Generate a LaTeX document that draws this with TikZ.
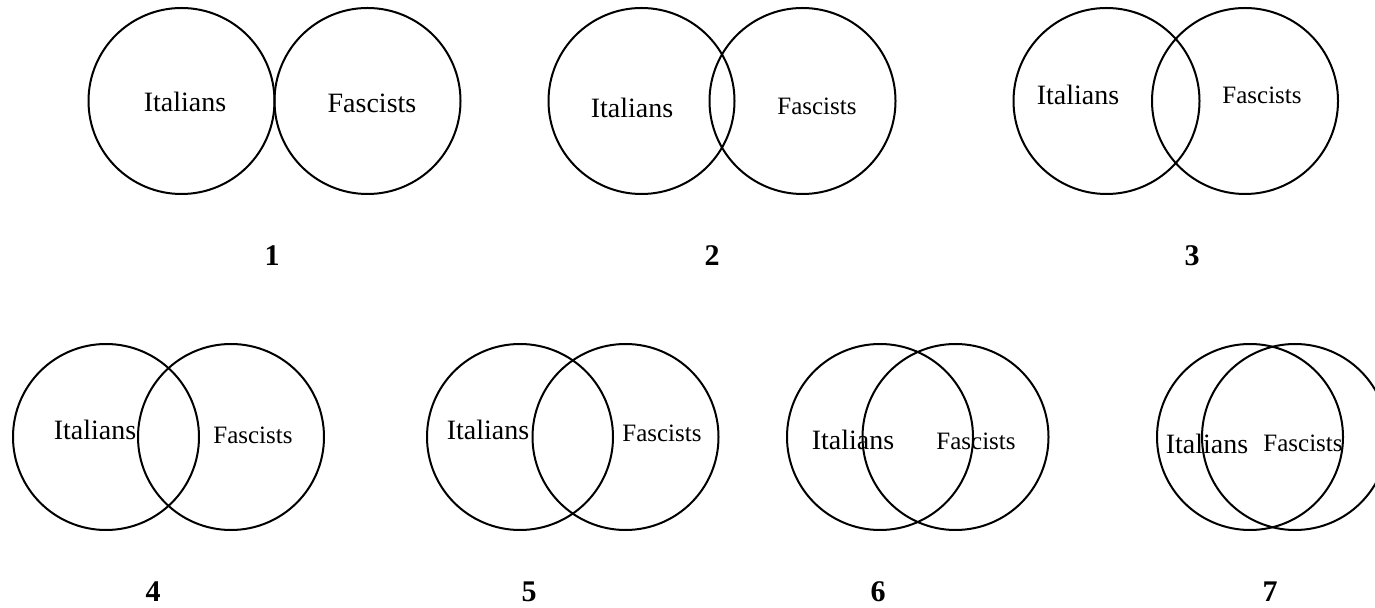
\documentclass[tikz,border=0pt]{standalone}
\usepackage{fontspec}
\setmainfont{Liberation Serif}
\usetikzlibrary{positioning}

\begin{document}
\begin{tikzpicture}[%
        x=0.5pt, y=-0.5pt,
        set/.style={circle, draw, line width=1pt, inner sep=0pt, minimum size=93pt},
        big/.style={font=\fontsize{14}{16}\selectfont},
        small/.style={font=\fontsize{12.5}{14}\selectfont},
        num/.style={font=\fontsize{15}{18}\selectfont\bfseries}
        ]

        \useasboundingbox (0,0) rectangle (1375,608);

        \node[set] (i1) at (181.5,101) {};
        \node[set] (f1) at (367.5,101) {};
        \node[big] (ti1) at (185,102) {Italians};
        \node[big] (tf1) at (372,103) {Fascists};
        \node[num] (n1) at (272,256) {1};

        \node[set] (i2) at (641.5,101) {};
        \node[set] (f2) at (802.5,101) {};
        \node[big] (ti2) at (632,108) {Italians};
        \node[small] (tf2) at (817,106) {Fascists};
        \node[num] (n2) at (712,256) {2};

        \node[set] (i3) at (1106.5,101) {};
        \node[set] (f3) at (1245,101) {};
        \node[big] (ti3) at (1078,95) {Italians};
        \node[small] (tf3) at (1262,95) {Fascists};
        \node[num] (n3) at (1192,256) {3};

        \node[set] (i4) at (106,437) {};
        \node[set] (f4) at (231,437) {};
        \node[big] (ti4) at (95,430) {Italians};
        \node[small] (tf4) at (253,435) {Fascists};
        \node[num] (n4) at (153,592) {4};

        \node[set] (i5) at (520,437) {};
        \node[set] (f5) at (625.5,437) {};
        \node[big] (ti5) at (488,430) {Italians};
        \node[small] (tf5) at (662,433) {Fascists};
        \node[num] (n5) at (529,592) {5};

        \node[set] (i6) at (880,437) {};
        \node[set] (f6) at (955.5,437) {};
        \node[big] (ti6) at (853,440) {Italians};
        \node[small] (tf6) at (976,441) {Fascists};
        \node[num] (n6) at (878,592) {6};

        \node[set] (i7) at (1250,437) {};
        \node[set] (f7) at (1295,437) {};
        \node[big] (ti7) at (1207,444) {Italians};
        \node[small] (tf7) at (1303,443) {Fascists};
        \node[num] (n7) at (1270,592) {7};

\end{tikzpicture}
\end{document}
